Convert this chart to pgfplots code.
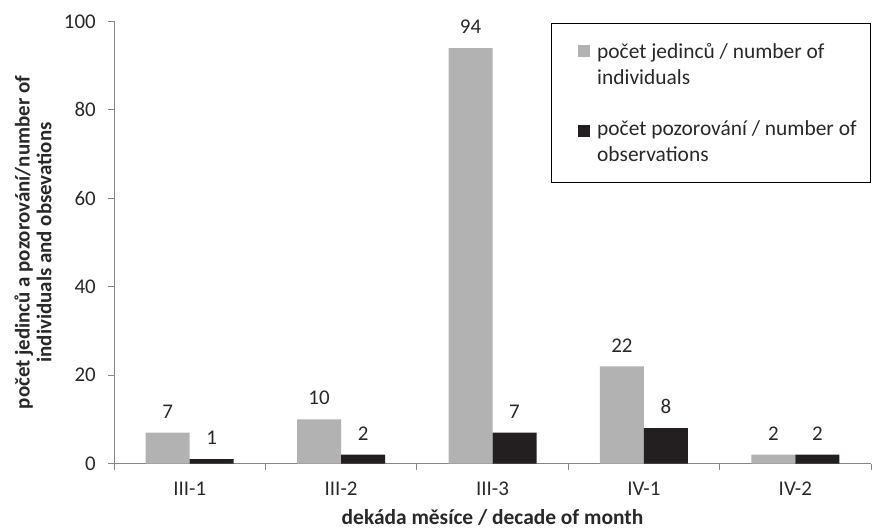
\documentclass[border=0pt]{standalone}
\usepackage{fontspec}
\setmainfont{Carlito}
\usepackage{pgfplots}
\pgfplotsset{compat=1.18}
\definecolor{barg}{RGB}{178,178,178}
\definecolor{bark}{RGB}{35,31,32}
\definecolor{axg}{RGB}{134,134,134}
\definecolor{txt}{RGB}{40,40,40}
\begin{document}
\begin{tikzpicture}
\useasboundingbox (0,0) rectangle (873bp,532bp);
\begin{axis}[
  at={(114bp,68.5bp)}, anchor=south west,
  scale only axis, width=757bp, height=442bp,
  ybar=0pt, bar width=44bp,
  xmin=-0.5, xmax=4.5, ymin=0, ymax=100,
  xtick={0,...,4}, xticklabels={III-1,III-2,III-3,IV-1,IV-2},
  major x tick style={draw=none},
  minor xtick={-0.5,0.5,...,4.5},
  ytick={0,20,...,100},
  axis x line*=bottom, axis y line*=left,
  axis line style={draw=axg, line width=1pt},
  every tick/.style={draw=axg, line width=1pt},
  tick align=outside, major tick length=6bp, minor tick length=7bp,
  /pgf/number format/assume math mode=true,
  tick label style={font=\fontsize{21}{25}\selectfont, text=txt},
  xticklabel style={inner sep=0pt, yshift=-12bp},
  yticklabel style={inner sep=0pt, xshift=-12bp},
  xlabel={dekáda měsíce / decade of month},
  ylabel={počet jedinců a pozorování/number of\\individuals and obsevations},
  every axis x label/.style={at={(axis description cs:0.5,-0.122)}, anchor=center,
    font=\bfseries\fontsize{21.5}{25}\selectfont, text=txt},
  every axis y label/.style={at={(axis description cs:-0.107,0.5)}, anchor=center, rotate=90,
    align=center, font=\bfseries\fontsize{21}{22}\selectfont, text=txt},
  nodes near coords,
  nodes near coords style={font=\fontsize{21}{25}\selectfont, text=txt, anchor=south, inner sep=0pt, yshift=14bp},
]
\addplot[fill=barg, draw=none] coordinates {(0,7) (1,10) (2,94) (3,22) (4,2)};
\addplot[fill=bark, draw=none] coordinates {(0,1) (1,2) (2,7) (3,8) (4,2)};
\end{axis}
% legend
\draw[black, line width=0.8pt] (551bp,350bp) rectangle (870bp,509bp);
\fill[barg] (578bp,475bp) rectangle (590bp,487bp);
\fill[bark] (578bp,395bp) rectangle (590bp,407bp);
\begin{scope}[every node/.style={anchor=base west, inner sep=0pt, text=txt, font=\fontsize{21.5}{26}\selectfont}]
\node at (597bp,473bp) {počet jedinců / number of};
\node at (597bp,447bp) {individuals};
\node at (597bp,396bp) {počet pozorování / number of};
\node at (597bp,370bp) {observations};
\end{scope}
\end{tikzpicture}
\end{document}
